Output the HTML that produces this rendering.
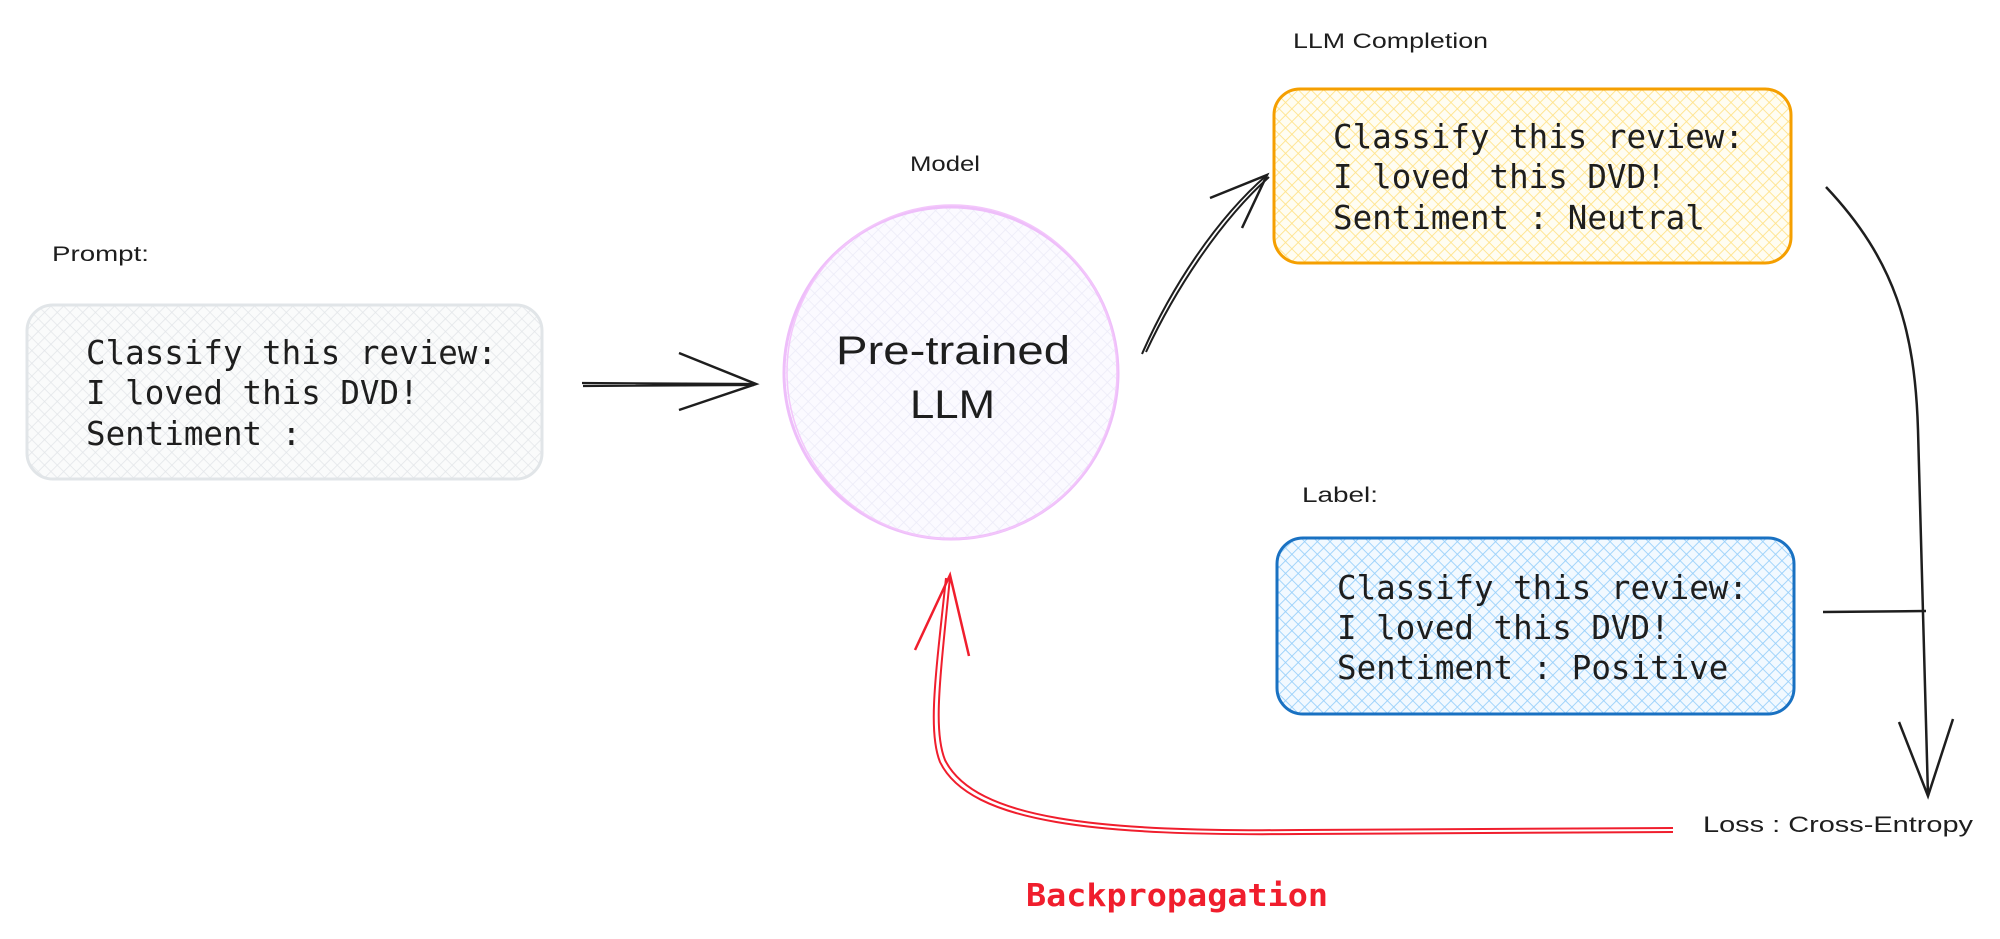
<!DOCTYPE html>
<html><head><meta charset="utf-8"><style>
html,body{margin:0;padding:0;background:#fff;width:2000px;height:939px;overflow:hidden}
svg{display:block}
.mono{font-family:"DejaVu Sans Mono","Liberation Mono",monospace;font-size:32.5px;fill:#1e1e1e}
.hand{font-family:"Liberation Sans",sans-serif;fill:#1e1e1e}
</style></head><body>
<svg width="2000" height="939" viewBox="0 0 2000 939" xmlns="http://www.w3.org/2000/svg">
<defs>
<pattern id="pg" width="9" height="9" patternUnits="userSpaceOnUse" patternTransform="rotate(45)"><rect width="9" height="9" fill="#fafbfb"/><path d="M0 0V9M0 0H9" stroke="#e3e6e9" stroke-width="1.6"/></pattern>
<pattern id="pv" width="9" height="9" patternUnits="userSpaceOnUse" patternTransform="rotate(45)"><rect width="9" height="9" fill="#fbfaff"/><path d="M0 0V9M0 0H9" stroke="#ecebf8" stroke-width="1.6"/></pattern>
<pattern id="py" width="9" height="9" patternUnits="userSpaceOnUse" patternTransform="rotate(45)"><rect width="9" height="9" fill="#fffdf2"/><path d="M0 0V9M0 0H9" stroke="#ffe38a" stroke-width="1.8"/></pattern>
<pattern id="pb" width="9" height="9" patternUnits="userSpaceOnUse" patternTransform="rotate(45)"><rect width="9" height="9" fill="#f2f9ff"/><path d="M0 0V9M0 0H9" stroke="#99d0fa" stroke-width="1.8"/></pattern>
</defs>

<text class="hand" x="52" y="261" font-size="21" textLength="97" lengthAdjust="spacingAndGlyphs">Prompt:</text>
<rect x="27" y="305" width="515" height="174" rx="26" fill="url(#pg)" stroke="#e1e5e8" stroke-width="3"/>
<text class="mono" x="86" y="364">Classify this review:</text>
<text class="mono" x="86" y="404">I loved this DVD!</text>
<text class="mono" x="86" y="445">Sentiment :</text>

<path d="M582 383 L756 384 M583 386 L754 385" stroke="#1e1e1e" stroke-width="2.2" fill="none"/>
<path d="M679 353 L756 384 L679 410" stroke="#1e1e1e" stroke-width="2.5" fill="none"/>

<text class="hand" x="910" y="171" font-size="21" textLength="70" lengthAdjust="spacingAndGlyphs">Model</text>
<ellipse cx="951" cy="373" rx="167" ry="166" fill="url(#pv)" stroke="#eebefa" stroke-width="3"/>
<ellipse cx="952" cy="372" rx="165" ry="167" fill="none" stroke="#f3c6fb" stroke-width="1.5"/>
<text class="hand" x="836" y="364" font-size="40" textLength="234" lengthAdjust="spacingAndGlyphs">Pre-trained</text>
<text class="hand" x="910" y="418" font-size="40" textLength="85" lengthAdjust="spacingAndGlyphs">LLM</text>

<path d="M1142 354 C1170 290 1215 220 1267 175 M1146 352 C1174 292 1218 223 1269 177" stroke="#1e1e1e" stroke-width="2" fill="none"/>
<path d="M1210 198 L1267 175 L1242 228" stroke="#1e1e1e" stroke-width="2.5" fill="none"/>

<text class="hand" x="1293" y="48" font-size="21" textLength="195" lengthAdjust="spacingAndGlyphs">LLM Completion</text>
<rect x="1274" y="89" width="517" height="174" rx="26" fill="url(#py)" stroke="#f59f00" stroke-width="3"/>
<text class="mono" x="1333" y="148">Classify this review:</text>
<text class="mono" x="1333" y="188">I loved this DVD!</text>
<text class="mono" x="1333" y="229">Sentiment : Neutral</text>

<text class="hand" x="1302" y="502" font-size="21" textLength="76" lengthAdjust="spacingAndGlyphs">Label:</text>
<rect x="1277" y="538" width="517" height="176" rx="26" fill="url(#pb)" stroke="#1971c2" stroke-width="3"/>
<text class="mono" x="1337" y="599">Classify this review:</text>
<text class="mono" x="1337" y="639">I loved this DVD!</text>
<text class="mono" x="1337" y="679">Sentiment : Positive</text>

<path d="M1826 187 C1895 260 1915 330 1918 430 L1928 796" stroke="#1e1e1e" stroke-width="2.5" fill="none"/>
<path d="M1899 722 L1928 796 L1953 719" stroke="#1e1e1e" stroke-width="2.5" fill="none"/>
<path d="M1823 612 L1926 611" stroke="#1e1e1e" stroke-width="2.5" fill="none"/>

<text class="hand" x="1703" y="832" font-size="22" textLength="270" lengthAdjust="spacingAndGlyphs">Loss : Cross-Entropy</text>

<path d="M1673 828 L1300 830 C1100 832 975 820 945 760 C933 730 940 680 950 577" stroke="#f01e2d" stroke-width="2" fill="none"/>
<path d="M1673 832 L1300 834 C1100 836 970 824 940 762 C928 732 935 680 946 578" stroke="#f01e2d" stroke-width="2" fill="none"/>
<path d="M915 650 L950 575 L969 656" stroke="#f01e2d" stroke-width="2.5" fill="none"/>
<text x="1026" y="906" font-family="'DejaVu Sans Mono','Liberation Mono',monospace" font-weight="bold" font-size="31" fill="#f01e2d" textLength="302" lengthAdjust="spacingAndGlyphs">Backpropagation</text>
</svg>
</body></html>
